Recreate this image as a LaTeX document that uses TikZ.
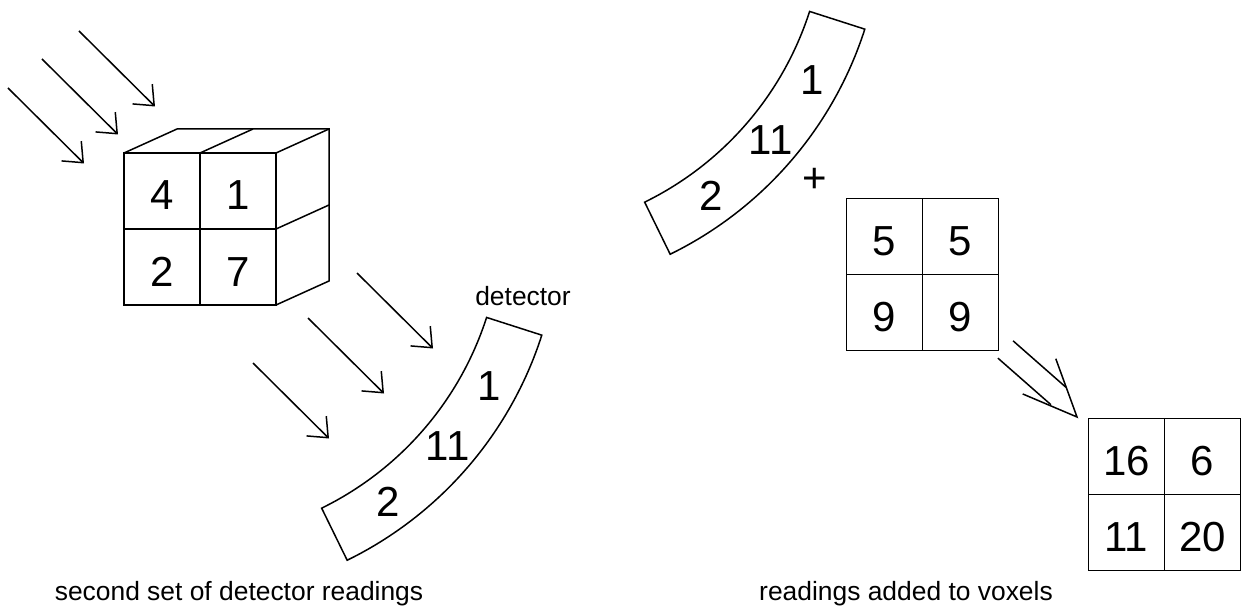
\documentclass[tikz,border=0pt]{standalone}
\usepackage{fontspec}
\setmainfont{Liberation Sans}
\usetikzlibrary{positioning, calc, arrows.meta}
\pgfmathsetmacro{\cubedx}{53}
\pgfmathsetmacro{\cubedy}{-24}
\pgfmathsetmacro{\detin}{322}
\pgfmathsetmacro{\detout}{380}
\pgfmathsetmacro{\detmid}{351}
\tikzset{
  cell/.style={draw, minimum size=38pt, inner sep=0pt, outer sep=0pt,
    text height=19pt, text depth=0pt, font=\fontsize{21pt}{25pt}\selectfont},
  reading/.style={inner sep=0pt, font=\fontsize{21pt}{25pt}\selectfont},
  ray/.style={-{Straight Barb[length=8.3pt, width=14pt]}},
  caption/.style={anchor=base, inner sep=0pt, font=\fontsize{13.2pt}{16pt}\selectfont},
}

\begin{document}
\begin{tikzpicture}[x=0.5pt, y=-0.5pt, line width=0.75pt]
    \useasboundingbox (0,0) rectangle (1242,609);
    % define nodes
    % cube front face
    \node[cell] (cube_a) at (162,191) {4};
    \node[cell, right=0pt of cube_a] (cube_b) {1};
    \node[cell, below=0pt of cube_a] (cube_c) {2};
    \node[cell, right=0pt of cube_c] (cube_d) {7};
    % voxels after adding
    \node[cell] (avg_a) at (884.5,236.5) {5};
    \node[cell, right=0pt of avg_a] (avg_b) {5};
    \node[cell, below=0pt of avg_a] (avg_c) {9};
    \node[cell, right=0pt of avg_c] (avg_d) {9};
    % summed voxels
    \node[cell] (total_a) at (1126.5,456.5) {16};
    \node[cell, right=0pt of total_a] (total_b) {6};
    \node[cell, below=0pt of total_a] (total_c) {11};
    \node[cell, right=0pt of total_c] (total_d) {20};
    % detector arcs, both share the same shape
    \coordinate (low_focus) at (180,219);
    \coordinate (high_focus) at (503,-87);
    \node[reading] (plus) at (815,180) {+};
    % captions
    \node[caption] (det_name) at (523,306) {detector};
    \node[caption] (left_caption) at (239,600) {second set of detector readings};
    \node[caption] (right_caption) at (906,600) {readings added to voxels};
    % draw cube sides
    \draw (cube_a.north west) -- ++(\cubedx,\cubedy)
        -- ($(cube_b.north east)+(\cubedx,\cubedy)$)
        -- ($(cube_d.south east)+(\cubedx,\cubedy)$) -- (cube_d.south east);
    \draw (cube_a.north east) -- ++(\cubedx,\cubedy);
    \draw (cube_b.north east) -- ++(\cubedx,\cubedy);
    \draw (cube_b.south east) -- ++(\cubedx,\cubedy);
    % draw detectors with their readings
    \foreach \f in {low,high} {
        \draw ($(\f_focus)+(17.8:\detin)$) arc[start angle=17.8, end angle=63.9, radius=\detin]
            -- ($(\f_focus)+(63.9:\detout)$) arc[start angle=63.9, end angle=17.8, radius=\detout]
            -- cycle;
        \node[reading] (\f_one) at ($(\f_focus)+(28.4:\detmid)$) {1};
        \node[reading] (\f_eleven) at ($(\f_focus)+(40.3:\detmid)$) {11};
        \node[reading] (\f_two) at ($(\f_focus)+(53.7:\detmid)$) {2};
    }
    % rays
    \foreach \i/\sx/\sy in {1/8/88, 2/42/59, 3/79/31, 4/253/363, 5/308/318, 6/357/273} {
        \coordinate (ray_in_\i) at (\sx,\sy);
        \coordinate (ray_out_\i) at ($(ray_in_\i)+(76,75.5)$);
        \draw[ray] (ray_in_\i) -- (ray_out_\i);
    }
    % double arrow from avg to total
    \coordinate (sum_tail) at ($(avg_d.south east)+(7,-1)$);
    \coordinate (sum_neck) at ($(sum_tail)+(41.3:70.5)$);
    \coordinate (sum_tip) at ($(total_a.north west)+(-11.5,-1.5)$);
    \foreach \s in {5.75pt,-5.75pt}
        \draw ($(sum_tail)!\s!90:(sum_neck)$) -- ($(sum_neck)!\s!-90:(sum_tail)$);
    \draw ($(sum_tip)+(203:59)$) -- (sum_tip) -- ($(sum_tip)+(250:62)$);
\end{tikzpicture}
\end{document}
